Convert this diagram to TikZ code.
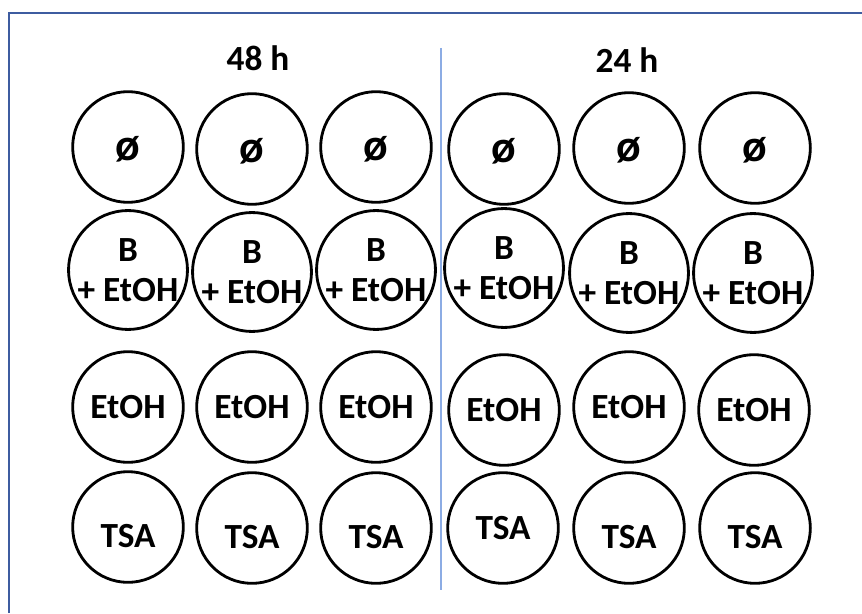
\documentclass[tikz,border=0pt]{standalone}
\usepackage{fontspec}
\setmainfont{Carlito}
\definecolor{frameblue}{RGB}{62,92,160}
\definecolor{splitblue}{RGB}{140,172,228}

\begin{document}
\begin{tikzpicture}[
  x=0.75pt, y=-0.75pt,
  font=\bfseries\fontsize{26.5}{30}\selectfont,
  well/.style={circle, draw=black, line width=2.1pt, minimum size=83pt, inner sep=0pt, align=center},
  low/.style={text height=30pt, text depth=0pt},
  nil/.style={font=\bfseries\fontsize{34}{34}\selectfont, text height=22pt},
  head/.style={inner sep=0pt},
  frame/.style={draw=frameblue, line width=2.2pt},
  split/.style={draw=splitblue, line width=1.4pt}
]
\useasboundingbox (0,0) rectangle (862,613);

% frame and divider
\draw[frame] (9,613) |- (862,13);
\draw[split] (441,48) -- (441,590);

% headers
\node[head] (h48) at (258,58) {48 h};
\node[head] (h24) at (627,60) {24 h};

% empty wells
\node[well, nil] (e1) at (128,147) {ø};
\node[well, nil] (e2) at (252,149) {ø};
\node[well, nil] (e3) at (376,147) {ø};
\node[well, nil] (e4) at (504,149) {ø};
\node[well, nil] (e5) at (629,148) {ø};
\node[well, nil] (e6) at (755,148) {ø};

% B + EtOH
\node[well] (b1) at (128,270) {B\\+ EtOH};
\node[well] (b2) at (252,272) {B\\+ EtOH};
\node[well] (b3) at (376,270) {B\\+ EtOH};
\node[well] (b4) at (504,268) {B\\+ EtOH};
\node[well] (b5) at (629,273) {B\\+ EtOH};
\node[well] (b6) at (753,273) {B\\+ EtOH};

% EtOH
\node[well] (s1) at (128,407) {EtOH};
\node[well] (s2) at (252,407) {EtOH};
\node[well] (s3) at (376,407) {EtOH};
\node[well] (s4) at (504,410) {EtOH};
\node[well] (s5) at (629,407) {EtOH};
\node[well] (s6) at (754,410) {EtOH};

% TSA
\node[well, low] (t1) at (128,527) {TSA};
\node[well, low] (t2) at (252,528) {TSA};
\node[well, low] (t3) at (376,528) {TSA};
\node[well] (t4) at (503,528) {TSA};
\node[well, low] (t5) at (629,528) {TSA};
\node[well, low] (t6) at (755,528) {TSA};
\end{tikzpicture}
\end{document}
